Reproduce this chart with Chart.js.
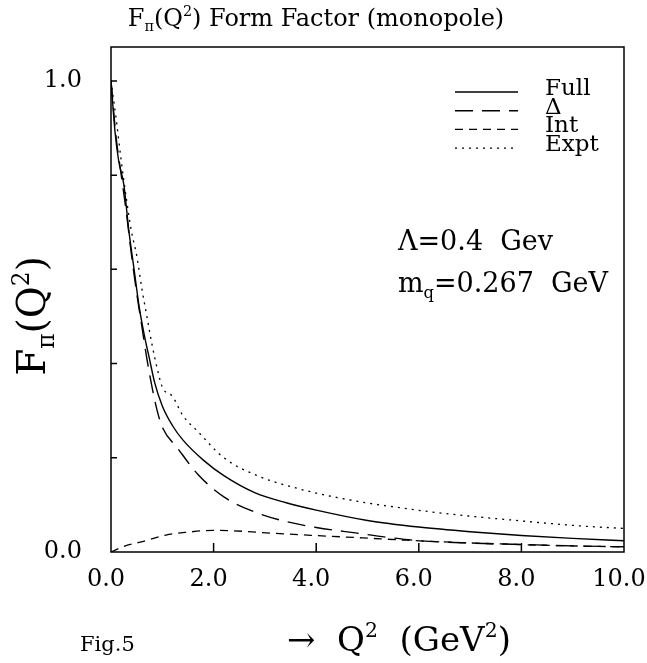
<!DOCTYPE html>
<html>
<head>
<meta charset="utf-8">
<script src="https://cdn.jsdelivr.net/npm/chart.js@4/dist/chart.umd.min.js"></script>
<style>
  html, body { margin: 0; padding: 0; background: #fff; }
  #wrap { width: 647px; height: 663px; }
</style>
</head>
<body>
<div id="wrap"><canvas id="ff_chart"></canvas></div>
<script>
// values
const qFull = [0, 0.08, 0.15, 0.25, 0.35, 0.45, 0.55, 0.65, 0.75, 0.85, 1.0, 1.2, 1.4, 1.8, 2.2, 2.8, 3.4, 4.0, 5.0, 6.0, 7.0, 8.0, 9.0, 10.0]
const fFull = [1.0, 0.89, 0.83, 0.78, 0.68, 0.60, 0.52, 0.46, 0.41, 0.36, 0.31, 0.268, 0.238, 0.195, 0.162, 0.126, 0.105, 0.089, 0.067, 0.053, 0.043, 0.035, 0.029, 0.024]

const qDelta = [0, 0.1, 0.2, 0.3, 0.4, 0.5, 0.6, 0.7, 0.8, 0.9, 1.0, 1.3, 1.7, 2.2, 2.8, 3.4, 4.0, 4.8, 5.4, 6.0, 7.0, 8.0, 9.0, 10.0]
const fDelta = [1.0, 0.88, 0.80, 0.72, 0.63, 0.55, 0.48, 0.41, 0.35, 0.30, 0.265, 0.22, 0.164, 0.117, 0.085, 0.065, 0.052, 0.040, 0.031, 0.024, 0.019, 0.016, 0.013, 0.011]

const qInt = [0, 0.28, 0.57, 1.07, 1.49, 1.99, 2.56, 3.13, 3.98, 4.9, 5.76, 6.82, 7.89, 8.96, 10.0]
const fInt = [0, 0.013, 0.021, 0.036, 0.042, 0.046, 0.044, 0.040, 0.035, 0.030, 0.025, 0.020, 0.016, 0.013, 0.011]

const qExpt = [0, 0.1, 0.2, 0.3, 0.4, 0.5, 0.6, 0.7, 0.8, 0.9, 1.0, 1.2, 1.4, 1.7, 2.2, 2.9, 3.6, 4.3, 5.0, 5.7, 6.4, 7.1, 7.8, 8.5, 9.2, 10.0]
const fExpt = [1.0, 0.92, 0.83, 0.75, 0.68, 0.63, 0.56, 0.50, 0.44, 0.39, 0.35, 0.33, 0.29, 0.255, 0.20, 0.16, 0.136, 0.118, 0.104, 0.093, 0.083, 0.075, 0.068, 0.061, 0.055, 0.050]

const xTicks = [0, 2, 4, 6, 8, 10]
const yTicks = [0, 0.2, 0.4, 0.6, 0.8, 1.0]
const yLabelled = [0, 1.0]
const seriesNames = ['Full', '\u0394', 'Int', 'Expt']

const serif = '"DejaVu Serif", "Liberation Serif", serif'
const pts = (xs, ys) => xs.map((x, i) => ({ x: x, y: ys[i] }))

// draws text with sub/superscript pieces, returns width
function richText(ctx, parts, x, y, size, measureOnly) {
  let cx = x
  parts.forEach(p => {
    const s = p.sub || p.sup ? size * 0.6 : size
    ctx.font = s + 'px ' + serif
    const dy = p.sub ? size * 0.22 : (p.sup ? -size * 0.42 : 0)
    if (!measureOnly) ctx.fillText(p.t, cx, y + dy)
    cx += ctx.measureText(p.t).width
  })
  return cx - x
}

const decorations = {
  id: 'decorations',
  afterDraw(chart) {
    const ctx = chart.ctx
    const a = chart.chartArea
    const xs = chart.scales.x
    const ys = chart.scales.y
    ctx.save()
    ctx.strokeStyle = '#000'
    ctx.fillStyle = '#000'
    ctx.lineWidth = 1.5
    ctx.setLineDash([])
    ctx.strokeRect(a.left, a.top, a.right - a.left, a.bottom - a.top)

    // inward ticks
    ctx.beginPath()
    xTicks.slice(1, -1).forEach(v => {
      const px = xs.getPixelForValue(v)
      ctx.moveTo(px, a.bottom)
      ctx.lineTo(px, a.bottom - 9)
    })
    yTicks.slice(1).forEach(v => {
      const py = ys.getPixelForValue(v)
      ctx.moveTo(a.left, py)
      ctx.lineTo(a.left + 6, py)
    })
    ctx.stroke()

    ctx.textBaseline = 'alphabetic'
    ctx.textAlign = 'left'

    // title
    const title = [{ t: 'F' }, { t: '\u03c0', sub: true }, { t: '(Q' }, { t: '2', sup: true }, { t: ') Form Factor (monopole)' }]
    const tw = richText(ctx, title, 0, 0, 24, true)
    richText(ctx, title, 316 - tw / 2, 26, 24)

    // y title
    const yt = [{ t: 'F' }, { t: '\u03c0', sub: true }, { t: '(Q' }, { t: '2', sup: true }, { t: ')' }]
    ctx.save()
    ctx.translate(45, 316)
    ctx.rotate(-Math.PI / 2)
    const yw = richText(ctx, yt, 0, 0, 39, true)
    richText(ctx, yt, -yw / 2, 0, 39)
    ctx.restore()

    // x title
    const xt = [{ t: '\u2192  Q' }, { t: '2', sup: true }, { t: '  (GeV' }, { t: '2', sup: true }, { t: ')' }]
    richText(ctx, xt, 287, 651, 34)
    ctx.font = '21px ' + serif
    ctx.fillText('Fig.5', 80, 651)

    // parameters
    richText(ctx, [{ t: '\u039b=0.4  Gev' }], 398, 250, 27)
    richText(ctx, [{ t: 'm' }, { t: 'q', sub: true }, { t: '=0.267  GeV' }], 398, 292, 27)

    // legend
    chart.data.datasets.forEach((ds, i) => {
      const ly = 89 + i * 18.7
      ctx.beginPath()
      ctx.lineWidth = ds.borderWidth
      ctx.setLineDash(ds.borderDash || [])
      ctx.moveTo(455, ly + 3)
      ctx.lineTo(518, ly + 3)
      ctx.stroke()
      ctx.setLineDash([])
      ctx.font = '23px ' + serif
      ctx.textBaseline = 'middle'
      ctx.fillText(ds.label, 545, ly)
    })
    ctx.restore()
  }
}

const lineSet = (label, data, dash, width) => ({
  label: label,
  data: data,
  borderColor: '#000',
  borderWidth: width,
  borderDash: dash,
  pointRadius: 0,
  fill: false,
  cubicInterpolationMode: 'monotone'
})

new Chart(document.querySelector('#ff_chart'), {
  type: 'line',
  data: {
    datasets: [
      lineSet(seriesNames[0], pts(qFull, fFull), [], 1.4),
      lineSet(seriesNames[1], pts(qDelta, fDelta), [18, 9], 1.4),
      lineSet(seriesNames[2], pts(qInt, fInt), [8, 6], 1.3),
      lineSet(seriesNames[3], pts(qExpt, fExpt), [2, 5], 1.3)
    ]
  },
  options: {
    responsive: true,
    maintainAspectRatio: false,
    animation: false,
    layout: { padding: { left: 0, right: 23, top: 47, bottom: 0 } },
    plugins: {
      legend: { display: false },
      title: { display: false },
      tooltip: { enabled: false }
    },
    scales: {
      x: {
        type: 'linear',
        min: 0,
        max: 10,
        grid: { display: false, drawTicks: false },
        border: { display: false },
        afterBuildTicks: s => { s.ticks = xTicks.map(v => ({ value: v })) },
        afterFit: s => { s.height = 111; s.paddingLeft = 0; s.paddingRight = 0 },
        ticks: {
          padding: 13,
          maxRotation: 0,
          labelOffset: -5,
          color: '#000',
          font: { family: serif, size: 24 },
          callback: v => v.toFixed(1)
        }
      },
      y: {
        type: 'linear',
        min: 0,
        max: 1.072,
        grid: { display: false, drawTicks: false },
        border: { display: false },
        afterBuildTicks: s => { s.ticks = yTicks.map(v => ({ value: v })) },
        afterFit: s => { s.width = 111; s.paddingTop = 0; s.paddingBottom = 0 },
        ticks: {
          padding: 29,
          color: '#000',
          font: { family: serif, size: 24 },
          callback: v => yLabelled.some(l => Math.abs(l - v) < 1e-6) ? v.toFixed(1) : ''
        }
      }
    }
  },
  plugins: [decorations]
})
</script>
</body>
</html>
